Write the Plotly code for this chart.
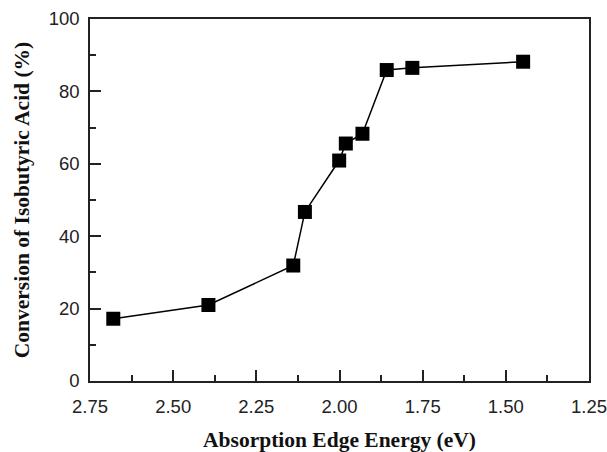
import plotly.graph_objects as go

energy = [2.68, 2.394, 2.139, 2.104, 2.001, 1.981, 1.931, 1.858, 1.781, 1.448]
conversion = [17.2, 21.0, 31.9, 46.7, 60.9, 65.6, 68.3, 85.9, 86.5, 88.2]

x_ticks = [2.75, 2.50, 2.25, 2.00, 1.75, 1.50, 1.25]
x_tick_labels = ["2.75", "2.50", "2.25", "2.00", "1.75", "1.50", "1.25"]
y_ticks = [0, 20, 40, 60, 80, 100]

fig = go.Figure()
fig.add_trace(go.Scatter(
    x=energy, y=conversion, mode="lines+markers",
    line=dict(color="black", width=1.5),
    marker=dict(symbol="square", size=14, color="black"),
    showlegend=False,
    cliponaxis=False,
))

tick_font = dict(family="Liberation Sans, Arial", size=18.5, color="#222")
title_font = dict(family="Liberation Serif, Times New Roman", size=21.5, color="#111")

fig.update_xaxes(
    range=[2.75, 1.25], tickvals=x_ticks, ticktext=x_tick_labels,
    ticks="inside", ticklen=11, tickwidth=1.5, tickcolor="#222",
    minor=dict(dtick=0.125, ticks="inside", ticklen=6, tickwidth=1.5, tickcolor="#222", showgrid=False),
    showline=True, linecolor="#222", linewidth=1.5, mirror=True,
    showgrid=False, zeroline=False, tickfont=tick_font, automargin=False,
    ticklabelstandoff=8, ticklabeloverflow="allow",
    title=dict(text="<b>Absorption Edge Energy (eV)</b>", font=title_font, standoff=17),
)
fig.update_yaxes(
    range=[0, 100], tickvals=y_ticks,
    ticks="inside", ticklen=11, tickwidth=1.5, tickcolor="#222",
    minor=dict(dtick=10, ticks="inside", ticklen=6, tickwidth=1.5, tickcolor="#222", showgrid=False),
    showline=True, linecolor="#222", linewidth=1.5, mirror=True,
    showgrid=False, zeroline=False, tickfont=tick_font, automargin=False,
    ticklabelstandoff=5, ticklabeloverflow="allow",
    title=dict(text="<b>Conversion of Isobutyric Acid (%)</b>", font=title_font, standoff=13),
)
fig.update_layout(
    width=607, height=452,
    margin=dict(l=90, r=18, t=19, b=71),
    paper_bgcolor="white", plot_bgcolor="white",
)
# remove the default page margin so the 607x452 figure fills the window exactly
fig.write_html(
    "out.html",
    config={"displayModeBar": False},
    post_script="document.body.style.margin='0';document.body.style.overflow='hidden';",
)
